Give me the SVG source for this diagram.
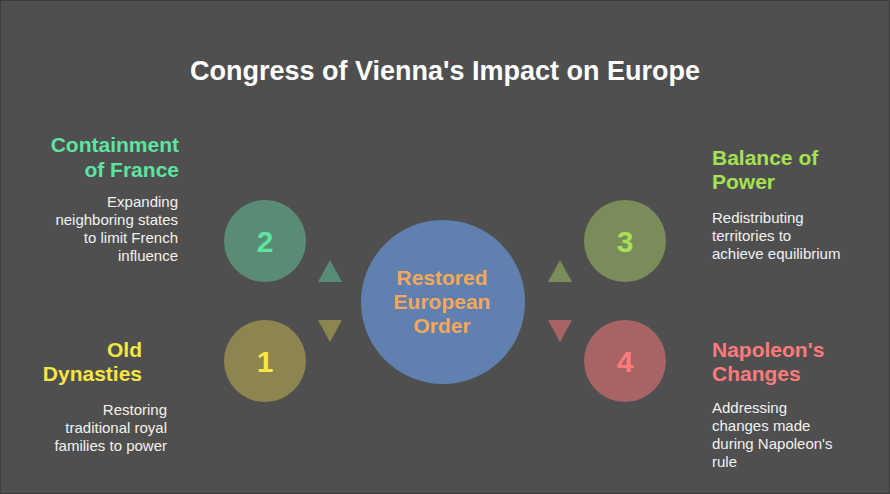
<svg xmlns="http://www.w3.org/2000/svg" width="890" height="494" viewBox="0 0 890 494">
  <style>
    .bg { fill: #4f4f4f; stroke: #3c3c3c; stroke-width: 2; }
    .title { font-family: "Liberation Sans", Arial, sans-serif; font-weight: bold; font-size: 27px; fill: #ffffff; }
    .head { font-family: "Liberation Sans", Arial, sans-serif; font-weight: bold; font-size: 21px; }
    .desc { font-family: "Liberation Sans", Arial, sans-serif; font-size: 15px; fill: #f2f2f2; }
    .num { font-family: "Liberation Sans", Arial, sans-serif; font-weight: bold; font-size: 30px; text-anchor: middle; }
    .center { font-family: "Liberation Sans", Arial, sans-serif; font-weight: bold; font-size: 21px; fill: #f5a85a; text-anchor: middle; }
    .r { text-anchor: end; }
  </style>
  <rect class="bg" x="0" y="0" width="890" height="494"/>
  <text class="title" x="445" y="80" text-anchor="middle">Congress of Vienna's Impact on Europe</text>

  <g id="connectors">
    <polygon points="330,260 342,282 318,282" fill="#5a8c75"/>
    <polygon points="318,320 342,320 330,342" fill="#8c8550"/>
    <polygon points="560,260 572,282 548,282" fill="#7a8c5a"/>
    <polygon points="548,320 572,320 560,342" fill="#a86464"/>
  </g>

  <g id="center-node">
    <circle cx="443" cy="302" r="82" fill="#6080b0"/>
    <text class="center" x="442" y="285">Restored</text>
    <text class="center" x="442" y="309">European</text>
    <text class="center" x="442" y="333">Order</text>
  </g>

  <g id="node-2">
    <circle cx="265" cy="241" r="41" fill="#5a8c75"/>
    <text class="num" x="265" y="252" fill="#5ee3a0">2</text>
    <text class="head r" x="179" y="152" fill="#5ee3a0">Containment</text>
    <text class="head r" x="179" y="177" fill="#5ee3a0">of France</text>
    <text class="desc r" x="178" y="207">Expanding</text>
    <text class="desc r" x="178" y="225">neighboring states</text>
    <text class="desc r" x="178" y="243">to limit French</text>
    <text class="desc r" x="178" y="261">influence</text>
  </g>

  <g id="node-1">
    <circle cx="265" cy="361" r="41" fill="#8c8550"/>
    <text class="num" x="265" y="372" fill="#f5e642">1</text>
    <text class="head r" x="142" y="357" fill="#f5e642">Old</text>
    <text class="head r" x="142" y="381" fill="#f5e642">Dynasties</text>
    <text class="desc r" x="167" y="415">Restoring</text>
    <text class="desc r" x="167" y="433">traditional royal</text>
    <text class="desc r" x="167" y="451">families to power</text>
  </g>

  <g id="node-3">
    <circle cx="625" cy="241" r="41" fill="#7a8c5a"/>
    <text class="num" x="625" y="252" fill="#a5e055">3</text>
    <text class="head" x="712" y="165" fill="#a5e055">Balance of</text>
    <text class="head" x="712" y="189" fill="#a5e055">Power</text>
    <text class="desc" x="712" y="223">Redistributing</text>
    <text class="desc" x="712" y="241">territories to</text>
    <text class="desc" x="712" y="259">achieve equilibrium</text>
  </g>

  <g id="node-4">
    <circle cx="625" cy="361" r="41" fill="#a86464"/>
    <text class="num" x="625" y="372" fill="#ff7b7b">4</text>
    <text class="head" x="712" y="357" fill="#ff7b7b">Napoleon's</text>
    <text class="head" x="712" y="381" fill="#ff7b7b">Changes</text>
    <text class="desc" x="712" y="413">Addressing</text>
    <text class="desc" x="712" y="431">changes made</text>
    <text class="desc" x="712" y="449">during Napoleon's</text>
    <text class="desc" x="712" y="467">rule</text>
  </g>
</svg>
